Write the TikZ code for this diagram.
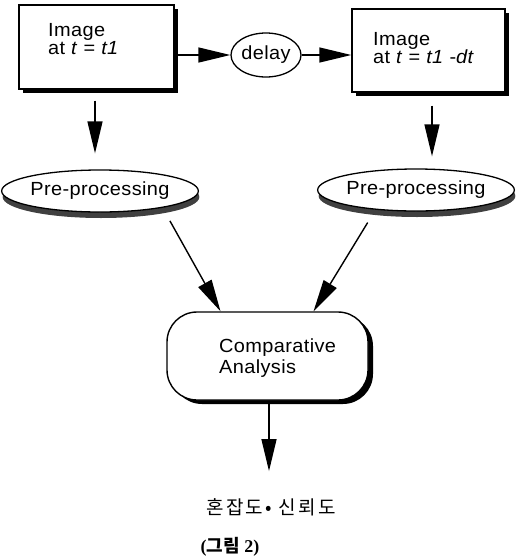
\documentclass[tikz,border=0pt]{standalone}
\usepackage{fontspec}
\setmainfont{Liberation Sans}[FakeStretch=1.05,LetterSpace=2]
\newfontfamily\krfont{Noto Sans CJK KR}[LetterSpace=12]
\newfontfamily\capkr{Noto Sans CJK KR}
\newfontfamily\capserif{Liberation Serif}
\usetikzlibrary{arrows.meta,shapes.geometric,shadows,calc}

\tikzset{
  txt/.style={font=\fontsize{19}{18}\selectfont, inner sep=0pt},
  framebox/.style={rectangle, draw, line width=1.4pt, fill=white, inner sep=0pt,
    drop shadow={shadow xshift=3.5pt, shadow yshift=-3.5pt, fill=black, opacity=1}},
  disk/.style={ellipse, draw, line width=1.3pt, fill=white, inner sep=0pt,
    txt, drop shadow={shadow xshift=1pt, shadow yshift=-6pt, fill=black!75, opacity=1}},
  plainoval/.style={ellipse, draw, line width=1.3pt, fill=white, inner sep=0pt, txt},
  roundbox/.style={rectangle, rounded corners=30pt, draw, line width=1.4pt, fill=white,
    inner sep=0pt, drop shadow={shadow xshift=5pt, shadow yshift=-4pt, fill=black, opacity=1}},
  conn/.style={line width=1.4pt, -{Triangle[length=32pt,width=15pt]}},
}

\begin{document}
\begin{tikzpicture}[x=1pt,y=-1pt]
\useasboundingbox (0,0) rectangle (523,560);

% frames holding the two images
\node[framebox, minimum width=155pt, minimum height=84pt] (leftimg) at (96.5,47) {};
\node[txt, align=left, anchor=north west] (lefttxt) at (48,23.5)
  {Image\\at \textit{t} = \textit{t1}};

\node[framebox, minimum width=153pt, minimum height=83pt] (rightimg) at (428.5,50.5) {};
\node[txt, align=left, anchor=north west] (righttxt) at (373,32)
  {Image\\at \textit{t} = \textit{t1} -\textit{dt}};

% delay element
\node[plainoval, minimum width=70pt, minimum height=44pt] (delay) at (266,55) {delay};

% pre-processing discs
\node[disk, minimum width=192pt, minimum height=42pt] (lpre) at (100,191) {Pre-processing};
\node[disk, minimum width=172pt, minimum height=42pt] (rpre) at (416,190) {Pre-processing};

% comparison stage
\node[roundbox, minimum width=201pt, minimum height=88pt] (comp) at (267.5,356) {};
\node[txt, align=left, anchor=north west, font=\fontsize{19}{21}\selectfont]
  (comptxt) at (219,339) {Comparative\\Analysis};

% result and caption
\node[inner sep=0pt, font=\krfont\fontsize{19}{19}\selectfont] (result) at (271,507) {혼잡도• 신뢰도};
\node[inner sep=0pt, font=\fontsize{18}{18}\selectfont\bfseries] (caption) at (230,547)
  {\capserif(\capkr 그림\capserif{} 2)};

% connectors
\draw[conn] (leftimg.east |- delay.west) -- (delay.west);
\draw[conn] (delay.east) -- (rightimg.west |- delay.east);
\draw[conn, shorten <=11pt, shorten >=16pt] ([xshift=-1.5pt]leftimg.south) -- ([xshift=-1.5pt]leftimg.south |- lpre.north);
\draw[conn, shorten <=13pt, shorten >=12pt] ([xshift=3.5pt]rightimg.south) -- ([xshift=3.5pt]rightimg.south |- rpre.north);
\draw[conn, shorten <=15pt] (lpre.-15) -- ([xshift=-47pt]comp.north);
\draw[conn, shorten <=15pt] (rpre.206) -- ([xshift=46pt]comp.north);
\draw[conn, shorten >=27pt] ([xshift=1.5pt]comp.south) -- ([xshift=1.5pt]comp.south |- result.north);
\end{tikzpicture}
\end{document}
